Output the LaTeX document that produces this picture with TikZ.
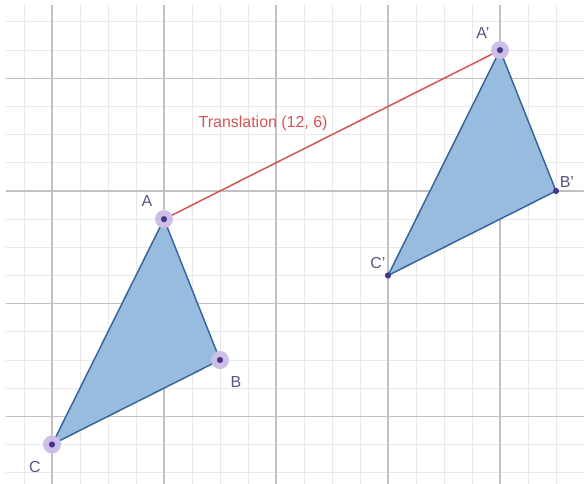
\documentclass[tikz,border=0pt]{standalone}
\usepackage{fontspec}
\setmainfont{Liberation Sans}
\definecolor{gridminor}{RGB}{232,232,232}
\definecolor{gridmajor}{RGB}{192,192,192}
\definecolor{trifill}{RGB}{152,188,222}
\definecolor{triedge}{RGB}{55,100,155}
\definecolor{halo}{RGB}{205,190,232}
\definecolor{dotc}{RGB}{72,52,140}
\definecolor{lblc}{RGB}{88,84,128}
\definecolor{redc}{RGB}{214,82,82}
\tikzset{
  tri/.style={fill=trifill, draw=triedge, line width=0.75pt, line join=round},
  haloc/.style={fill=halo, draw=none},
  ptdot/.style={fill=dotc, draw=none},
  lbl/.style={text=lblc, font=\fontsize{8.1}{9}\selectfont, inner sep=0pt},
  vec/.style={draw=redc, line width=0.75pt}
}
\begin{document}
\begin{tikzpicture}[x=0.5cm, y=0.503cm]
\useasboundingbox (-1.857,-1.402) rectangle (19.0,15.78);
% grid
\begin{scope}
\clip (-1.643,-1.402) rectangle (19.0,15.57);
\foreach \i in {-1,...,19} \draw[gridminor, line width=0.5pt] (\i,-1.5) -- (\i,15.6);
\foreach \j in {-1,...,15} \draw[gridminor, line width=0.5pt] (-1.7,\j) -- (19.1,\j);
\foreach \i in {0,4,8,12,16} \draw[gridmajor, line width=0.6pt] (\i,-1.5) -- (\i,15.6);
\foreach \j in {1,5,9,13} \draw[gridmajor, line width=0.6pt] (-1.7,\j) -- (19.1,\j);
\end{scope}
% points
\coordinate (A) at (4,8);
\coordinate (B) at (6,3);
\coordinate (C) at (0,0);
\coordinate (A1) at (16,14);
\coordinate (B1) at (18,9);
\coordinate (C1) at (12,6);
% triangles
\path[tri] (A) -- (B) -- (C) -- cycle;
\path[tri] (A1) -- (B1) -- (C1) -- cycle;
% translation vector
\draw[vec] (A) -- (A1);
% halos
\foreach \p in {A,B,C,A1} \fill[haloc] (\p) circle (0.32);
\foreach \p in {A,B,C,A1,B1,C1} \fill[ptdot] (\p) circle (0.11);
% labels
\node[lbl] (lA) at (3.39,8.64) {A};
\node[lbl] (lB) at (6.57,2.22) {B};
\node[lbl] (lC) at (-0.61,-0.80) {C};
\node[lbl] (lA1) at (15.39,14.61) {A'};
\node[lbl] (lB1) at (18.39,9.32) {B'};
\node[lbl] (lC1) at (11.64,6.44) {C'};
\node[lbl, text=redc] (lT) at (7.54,11.41) {Translation (12, 6)};
\end{tikzpicture}
\end{document}
